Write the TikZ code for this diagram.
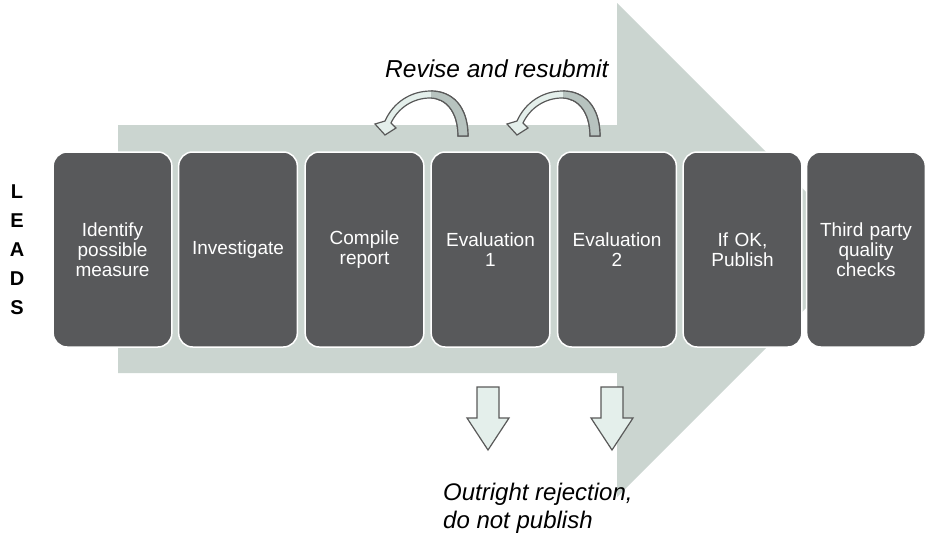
\documentclass[tikz,border=0pt]{standalone}
\usepackage{fontspec}
\setmainfont{Liberation Sans}
\usepackage{tikz}

\definecolor{bigarrow}{HTML}{CBD5D0}
\definecolor{boxgray}{HTML}{58595B}
\definecolor{arrowpale}{HTML}{E4EFEB}
\definecolor{arrowback}{HTML}{B7C3BF}
\definecolor{arrowline}{HTML}{595959}

\begin{document}
\begin{tikzpicture}[x=1pt, y=-1pt,
    stage/.style={draw=white, line width=1.5pt, fill=boxgray,
        rounded corners=14pt, minimum width=118pt, minimum height=195pt,
        text width=112pt, align=center, text=white,
        font=\fontsize{19}{20}\selectfont},
    blockarrow/.style={draw=arrowline, line width=1.2pt, fill=arrowpale},
    note/.style={font=\fontsize{24}{28}\selectfont\itshape, inner sep=0pt}]
    % Fix the canvas
    \useasboundingbox (0,0) rectangle (925,538);
    % Draw the big background arrow
    \fill[bigarrow] (118,125) -- (617,125) -- (617,3) -- (864,250)
        -- (617,497) -- (617,373) -- (118,373) -- cycle;
    % Draw the stages
    \node[stage] (identify) at (112.5,249.5) {Identify\\possible\\measure};
    \node[stage] (investigate) at (238,249.5) {Investigate};
    \node[stage] (compile) at (364.5,249.5) {Compile\\report};
    \node[stage] (evalone) at (490.5,249.5) {Evaluation\\1};
    \node[stage] (evaltwo) at (617,249.5) {Evaluation\\2};
    \node[stage] (publish) at (742.5,249.5) {If OK,\\Publish};
    \node[stage] (checks) at (866,249.5) {Third party\\quality\\checks};
    % Draw the revise arrows
    \foreach \dx in {0,132} {
        \begin{scope}[shift={(\dx,0)}]
            \filldraw[blockarrow] (468,136) .. controls (468,106) and (452,91) .. (431,91)
                .. controls (410,91) and (393,103) .. (385,121) -- (375,124)
                -- (385,135) -- (396,128) -- (391,123)
                .. controls (398,108) and (413,98) .. (430,98)
                .. controls (446,98) and (458,112) .. (458,136) -- cycle;
            % back side of the band
            \begin{scope}
                \clip (431,85) rectangle (472,140);
                \filldraw[blockarrow, fill=arrowback] (468,136) .. controls (468,106) and (452,91) .. (431,91)
                    .. controls (410,91) and (393,103) .. (385,121) -- (375,124)
                    -- (385,135) -- (396,128) -- (391,123)
                    .. controls (398,108) and (413,98) .. (430,98)
                    .. controls (446,98) and (458,112) .. (458,136) -- cycle;
            \end{scope}
        \end{scope}
    }
    % Draw the rejection arrows
    \foreach \dx in {0,124} {
        \filldraw[blockarrow, shift={(\dx,0)}] (477,387) -- (499,387) -- (499,418)
            -- (509,418) -- (488,450) -- (467,418) -- (477,418) -- cycle;
    }
    % Label the arrows
    \node[note, font=\fontsize{24.5}{28}\selectfont\itshape, anchor=base west]
        (revise) at (385,77) {Revise and resubmit};
    \node[note, anchor=base west, align=left] (reject) at (443,528)
        {Outright rejection,\\do not publish};
    % Label the side
    \node[font=\fontsize{20}{29}\selectfont\bfseries, align=center]
        (leads) at (17,249.5) {L\\E\\A\\D\\S};
\end{tikzpicture}
\end{document}
